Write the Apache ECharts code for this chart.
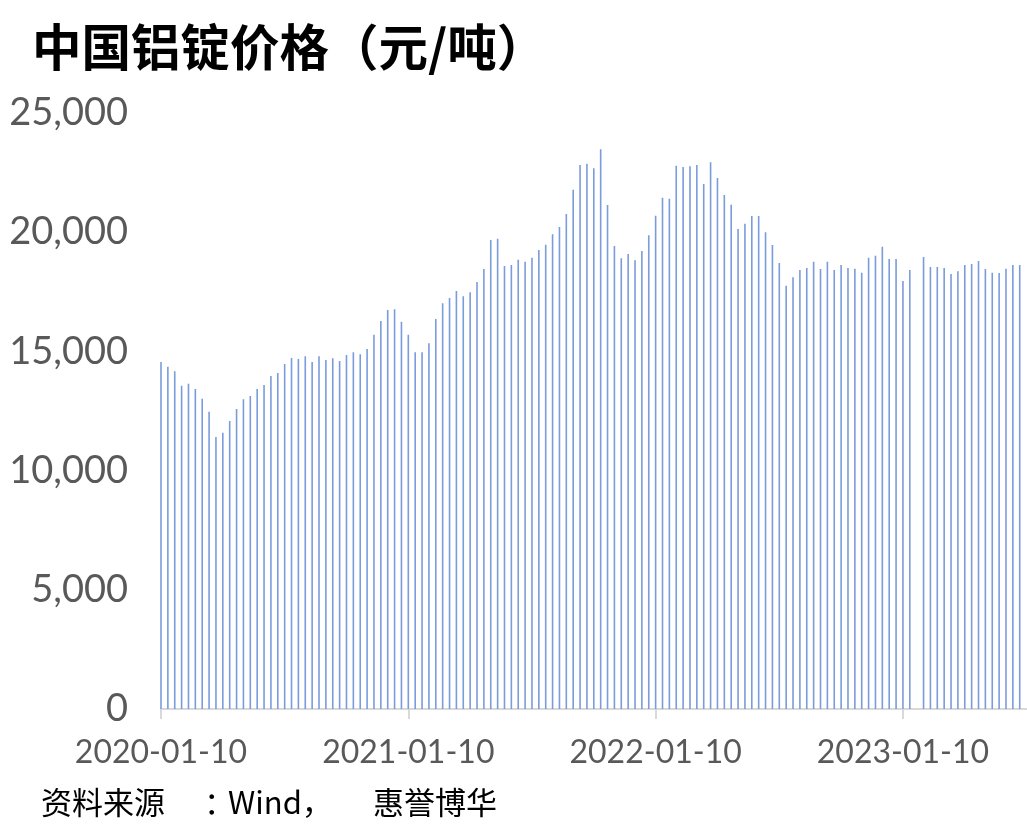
<!DOCTYPE html>
<html>
<head>
<meta charset="utf-8">
<script src="https://cdn.jsdelivr.net/npm/echarts@6/dist/echarts.min.js"></script>
<style>
html,body{margin:0;padding:0;background:#fff;}
#chart{width:1027px;height:824px;}
</style>
</head>
<body>
<div id="chart"></div>
<script>
// Dekadal dates (10th, 20th, month end) from 2020-01-10 to 2023-06-30
const startYear = 2020, endYear = 2023, endMonth = 6;
const dates = [];
for (let y = startYear; y <= endYear; y++) {
  for (let m = 1; m <= 12; m++) {
    if (y === endYear && m > endMonth) break;
    const last = new Date(y, m, 0).getDate();
    [10, 20, last].forEach(d => {
      dates.push(y + '-' + String(m).padStart(2, '0') + '-' + String(d).padStart(2, '0'));
    });
  }
}
dates.push(''); // trailing empty slot to extend the axis

const prices = [
  14555, 14360, 14164, 13563, 13647, 13423, 13017, 12472, 11409, 11590,
  12081, 12584, 12990, 13129, 13423, 13591, 13968, 14094, 14471, 14723,
  14681, 14794, 14555, 14794, 14639, 14710, 14597, 14849, 14962, 14878,
  15101, 15702, 16275, 16736, 16764, 16246, 15702, 14962, 14962, 15339,
  16359, 17017, 17240, 17534, 17311, 17478, 17911, 18456, 19673, 19728,
  18582, 18624, 18840, 18764, 18931, 19253, 19477, 19910, 20218, 20763,
  21784, 22819, 22875, 22680, 23477, 21141, 19421, 18904, 19085, 18820,
  19211, 19868, 20693, 21448, 21406, 22791, 22735, 22763, 22819, 22022,
  22931, 22273, 21560, 21155, 20134, 20358, 20680, 20680, 19994, 19463,
  18708, 17756, 18106, 18414, 18498, 18764, 18456, 18764, 18414, 18624,
  18498, 18470, 18302, 18931, 19015, 19393, 18876, 18876, 17953, 18414,
  null, 18960, 18540, 18540, 18498, 18247, 18359, 18624, 18666, 18792,
  18456, 18302, 18289, 18470, 18624, 18624
];

const titleText = '中国铝锭价格（元/吨）';
const sourceParts = ['资料来源', '：', 'Wind，', '惠誉博华'];
const yTicks = [0, 5000, 10000, 15000, 20000, 25000];
const labelEvery = 36;

const chart = echarts.init(document.getElementById('chart'));
chart.setOption({
  animation: false,
  backgroundColor: '#ffffff',
  title: {
    text: titleText,
    left: 27,
    top: 17,
    textStyle: {
      fontFamily: 'Noto Sans CJK SC',
      fontSize: 49.5,
      fontWeight: 'bold',
      color: '#000000'
    }
  },
  graphic: [{
    type: 'text',
    left: 41,
    top: 787,
    style: {
      text: '{a|' + sourceParts[0] + '}{b|' + sourceParts[1] + '}{c|' + sourceParts[2] + '}{d|' + sourceParts[3] + '}',
      fontFamily: 'Noto Sans CJK SC',
      fontSize: 31,
      fill: '#000000',
      rich: {
        a: { width: 163, fontFamily: 'Noto Sans CJK SC', fontSize: 31, fill: '#000000' },
        b: { width: 24, fontFamily: 'Noto Sans CJK SC', fontSize: 31, fill: '#000000' },
        c: { width: 145, fontFamily: 'Noto Sans CJK SC', fontSize: 31, fill: '#000000' },
        d: { fontFamily: 'Noto Sans CJK SC', fontSize: 31, fill: '#000000' }
      }
    }
  }],
  grid: {
    left: 161,
    right: 0.4,
    top: 113,
    bottom: 115,
    containLabel: false
  },
  xAxis: {
    type: 'category',
    data: dates,
    boundaryGap: false,
    axisLine: { show: true, lineStyle: { color: '#D9D9D9', width: 2 } },
    axisTick: {
      show: true,
      length: 10,
      interval: (i) => i % labelEvery === 0,
      lineStyle: { color: '#D9D9D9', width: 2 }
    },
    axisLabel: {
      interval: (i) => i % labelEvery === 0,
      fontFamily: 'Lato',
      fontSize: 32,
      color: '#595959',
      margin: 28
    },
    splitLine: { show: false }
  },
  yAxis: {
    type: 'value',
    min: yTicks[0],
    max: yTicks[yTicks.length - 1],
    interval: yTicks[1] - yTicks[0],
    axisLine: { show: false },
    axisTick: { show: false },
    splitLine: { show: false },
    axisLabel: {
      fontFamily: 'Lato',
      fontSize: 38,
      color: '#595959',
      margin: 33,
      formatter: (v) => v.toLocaleString('en-US')
    }
  },
  series: [{
    type: 'bar',
    data: prices,
    barWidth: 1.6,
    itemStyle: { color: '#7A9CDA' }
  }]
});
</script>
</body>
</html>
